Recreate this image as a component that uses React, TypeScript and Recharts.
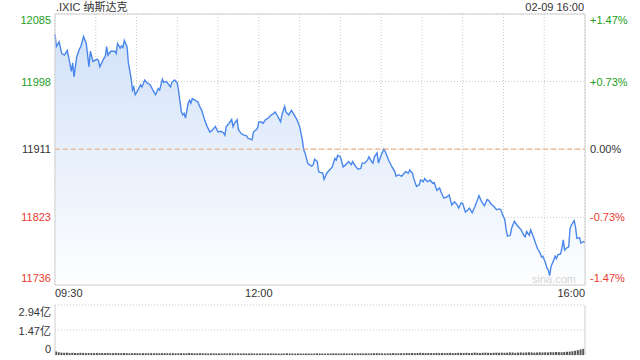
import {
  AreaChart,
  Area,
  BarChart,
  Bar,
  XAxis,
  YAxis,
  CartesianGrid,
  ReferenceLine,
} from 'recharts'

const FONT = '"Liberation Sans", Arial, "Noto Sans CJK SC", sans-serif'

const title = '.IXIC 纳斯达克'
const stamp = '02-09 16:00'
const prevClose = 11911

const priceTicks = [11736, 11823, 11911, 11998, 12085]
const pctLabels = ['-1.47%', '-0.73%', '0.00%', '+0.73%', '+1.47%']
const timeTicks = [0, 30, 60, 90, 120, 150, 180, 210, 240, 270, 300, 330, 360, 390]
const timeLabels: Record<number, string> = { 0: '09:30', 150: '12:00', 390: '16:00' }
const volTicks = [0, 1.47, 2.94]
const volLabels = ['0', '1.47亿', '2.94亿']

// minutes since 09:30
const minutes = [
  0, 1, 3, 5, 7, 9, 10, 12, 13, 14,
  16, 18, 19, 21, 23, 25, 26, 28, 31, 32,
  33, 36, 37, 38, 39, 41, 44, 45, 46, 48,
  49, 50, 51, 53, 54, 56, 57, 58, 59, 61,
  63, 64, 66, 68, 70, 72, 74, 76, 77, 79,
  80, 82, 85, 86, 88, 90, 91, 93, 94, 95,
  96, 98, 99, 100, 101, 103, 105, 107, 108, 110,
  112, 114, 116, 117, 118, 120, 122, 124, 125, 126,
  128, 130, 131, 132, 134, 135, 137, 139, 141, 142,
  145, 146, 148, 149, 150, 152, 153, 155, 157, 159,
  161, 162, 164, 166, 167, 169, 170, 172, 174, 176,
  178, 180, 182, 183, 184, 186, 187, 189, 190, 191,
  193, 194, 195, 197, 198, 200, 202, 204, 206, 207,
  208, 210, 211, 212, 214, 216, 218, 219, 221, 223,
  225, 226, 228, 230, 231, 233, 234, 235, 237, 238,
  240, 242, 243, 245, 246, 248, 250, 251, 253, 255,
  256, 258, 260, 261, 263, 264, 266, 268, 269, 271,
  272, 274, 276, 278, 279, 281, 283, 284, 286, 288,
  290, 292, 294, 296, 297, 299, 300, 302, 304, 305,
  307, 309, 311, 312, 314, 316, 318, 319, 321, 323,
  325, 327, 328, 330, 331, 332, 333, 335, 336, 338,
  340, 341, 343, 345, 346, 347, 349, 350, 352, 354,
  355, 357, 358, 359, 361, 362, 363, 364, 365, 367,
  368, 369, 370, 372, 373, 374, 375, 376, 378, 379,
  380, 382, 383, 384, 386, 387, 389, 390,
]

const prices = [
  12059, 12043, 12049, 12034, 12032, 12038, 12030, 12011, 12022, 12004,
  12030, 12040, 12043, 12056, 12047, 12017, 12037, 12024, 12027, 12025,
  12017, 12028, 12030, 12043, 12032, 12037, 12037, 12034, 12047, 12041,
  12044, 12042, 12051, 12043, 12022, 12002, 11987, 11991, 11981, 11987,
  11994, 11991, 12000, 11996, 11994, 11987, 11981, 11989, 11987, 12001,
  11997, 11998, 11991, 11997, 12000, 11996, 11985, 11959, 11955, 11957,
  11951, 11970, 11974, 11970, 11976, 11974, 11972, 11964, 11961, 11949,
  11940, 11933, 11936, 11938, 11940, 11933, 11934, 11932, 11929, 11940,
  11944, 11949, 11940, 11944, 11949, 11936, 11931, 11929, 11928, 11925,
  11923, 11933, 11936, 11938, 11946, 11946, 11944, 11949, 11951, 11955,
  11957, 11959, 11953, 11946, 11955, 11966, 11959, 11955, 11961, 11955,
  11949, 11940, 11923, 11910, 11906, 11893, 11891, 11889, 11891, 11898,
  11895, 11882, 11881, 11880, 11872, 11880, 11884, 11888, 11899, 11897,
  11903, 11901, 11895, 11888, 11891, 11895, 11891, 11895, 11889, 11885,
  11886, 11893, 11893, 11897, 11901, 11895, 11893, 11901, 11906, 11893,
  11903, 11911, 11908, 11899, 11895, 11888, 11882, 11876, 11878, 11876,
  11878, 11882, 11880, 11884, 11880, 11873, 11863, 11865, 11871, 11869,
  11873, 11869, 11871, 11867, 11868, 11858, 11861, 11856, 11848, 11849,
  11852, 11839, 11843, 11839, 11835, 11842, 11841, 11830, 11833, 11835,
  11829, 11837, 11846, 11851, 11843, 11838, 11846, 11845, 11840, 11837,
  11833, 11834, 11833, 11824, 11820, 11807, 11799, 11800, 11809, 11818,
  11813, 11811, 11807, 11800, 11798, 11805, 11800, 11807, 11798, 11788,
  11783, 11777, 11772, 11773, 11764, 11758, 11755, 11748, 11760, 11768,
  11773, 11770, 11775, 11776, 11783, 11794, 11781, 11783, 11785, 11809,
  11813, 11819, 11811, 11796, 11797, 11790, 11792, 11791,
]

// volume per 2-minute bin, in 亿
const volumes = [
  0.20, 0.16, 0.14, 0.13, 0.14, 0.12, 0.13, 0.12, 0.12, 0.13, 0.12, 0.11, 0.12, 0.12, 0.11,
  0.12, 0.11, 0.12, 0.11, 0.12, 0.11, 0.11, 0.12, 0.11, 0.11, 0.12, 0.11, 0.10, 0.11, 0.11,
  0.11, 0.10, 0.11, 0.11, 0.10, 0.11, 0.10, 0.11, 0.10, 0.10, 0.11, 0.10, 0.10, 0.11, 0.10,
  0.10, 0.11, 0.10, 0.10, 0.12, 0.11, 0.10, 0.10, 0.11, 0.10, 0.10, 0.09, 0.10, 0.10, 0.09,
  0.10, 0.09, 0.10, 0.09, 0.10, 0.10, 0.09, 0.10, 0.09, 0.10, 0.09, 0.09, 0.10, 0.09, 0.09,
  0.09, 0.10, 0.09, 0.09, 0.10, 0.09, 0.09, 0.08, 0.09, 0.09, 0.10, 0.09, 0.09, 0.08, 0.09,
  0.09, 0.08, 0.09, 0.09, 0.08, 0.09, 0.10, 0.09, 0.09, 0.08, 0.09, 0.09, 0.10, 0.09, 0.09,
  0.09, 0.10, 0.09, 0.09, 0.10, 0.09, 0.10, 0.10, 0.09, 0.10, 0.09, 0.10, 0.10, 0.11, 0.10,
  0.10, 0.09, 0.10, 0.10, 0.11, 0.10, 0.10, 0.11, 0.10, 0.12, 0.11, 0.12, 0.11, 0.12, 0.13,
  0.12, 0.11, 0.12, 0.11, 0.11, 0.12, 0.11, 0.12, 0.11, 0.12, 0.12, 0.11, 0.12, 0.13, 0.12,
  0.12, 0.13, 0.12, 0.12, 0.14, 0.13, 0.12, 0.13, 0.14, 0.13, 0.12, 0.13, 0.14, 0.13, 0.14,
  0.13, 0.14, 0.15, 0.14, 0.13, 0.14, 0.15, 0.14, 0.15, 0.16, 0.15, 0.14, 0.15, 0.16, 0.15,
  0.16, 0.15, 0.17, 0.16, 0.18, 0.17, 0.16, 0.18, 0.19, 0.20, 0.22, 0.25, 0.28, 0.33, 0.36,
]

const priceData = minutes.map((m, i) => ({ m, price: prices[i] }))
const volData = volumes.map((vol, i) => ({ m: 1 + i * 2, vol }))

const priceMin = priceTicks[0]
const priceMax = priceTicks[priceTicks.length - 1]

const tickColor = (v: number) =>
  v > prevClose ? '#22a022' : v < prevClose ? '#ec3a2f' : '#333'

const edgeShift = (v: number) => (v === priceMax ? 10 : v === priceMin ? -3 : 4)

function LeftPriceTick(props: any) {
  const v = props.payload.value as number
  return (
    <text x={51} y={props.y + edgeShift(v)} textAnchor="end" fontSize={11} fontFamily={FONT} fill={tickColor(v)}>
      {v}
    </text>
  )
}

function RightPctTick(props: any) {
  const v = props.payload.value as number
  return (
    <text x={590} y={props.y + edgeShift(v)} textAnchor="start" fontSize={11} fontFamily={FONT} fill={tickColor(v)}>
      {pctLabels[priceTicks.indexOf(v)]}
    </text>
  )
}

function TimeTick(props: any) {
  const v = props.payload.value as number
  const label = timeLabels[v]
  if (!label) return null
  const anchor = v === 0 ? 'start' : v === 390 ? 'end' : 'middle'
  return (
    <text x={props.x} y={props.y + 12} textAnchor={anchor} fontSize={11} fontFamily={FONT} fill="#333">
      {label}
    </text>
  )
}

function VolTick(props: any) {
  const v = props.payload.value as number
  const i = volTicks.indexOf(v)
  const dy = i === 2 ? 11 : i === 0 ? -2 : 5
  return (
    <text x={51} y={props.y + dy} textAnchor="end" fontSize={11} fontFamily={FONT} fill="#333">
      {volLabels[i]}
    </text>
  )
}

export default function App() {
  return (
    <div style={{ position: 'absolute', left: 0, top: 0, width: 640, height: 360, background: '#fff' }}>
      <div style={{ position: 'absolute', left: 0, top: 0 }}>
        <AreaChart width={640} height={300} data={priceData} margin={{ top: 14, right: 0, bottom: 0, left: 0 }}>
          <defs>
            <linearGradient id="priceFill" gradientUnits="userSpaceOnUse" x1="0" y1="14" x2="0" y2="285">
              <stop offset="0" stopColor="#d0e0f8" />
              <stop offset="1" stopColor="#fdfeff" />
            </linearGradient>
          </defs>
          <CartesianGrid stroke="#c8c8c8" strokeDasharray="1 2" />
          <XAxis
            dataKey="m"
            type="number"
            domain={[0, 390]}
            ticks={timeTicks}
            interval={0}
            height={15}
            tickSize={0}
            tickMargin={0}
            axisLine={false}
            tickLine={false}
            tick={<TimeTick />}
          />
          <YAxis
            domain={[priceMin, priceMax]}
            ticks={priceTicks}
            interval={0}
            width={55}
            axisLine={false}
            tickLine={false}
            allowDataOverflow
            tick={<LeftPriceTick />}
          />
          <YAxis
            yAxisId="r"
            orientation="right"
            domain={[priceMin, priceMax]}
            ticks={priceTicks}
            interval={0}
            width={55}
            axisLine={false}
            tickLine={false}
            allowDataOverflow
            tick={<RightPctTick />}
          />
          <Area
            type="linear"
            dataKey="price"
            stroke="#4a87ec"
            strokeWidth={1.4}
            fill="url(#priceFill)"
            fillOpacity={1}
            dot={false}
            activeDot={false}
            isAnimationActive={false}
          />
          <ReferenceLine y={prevClose} stroke="#f0a070" strokeDasharray="5 3" />
          <ReferenceLine y={priceMax} stroke="#cfcfcf" />
          <ReferenceLine y={priceMin} stroke="#cfcfcf" />
          <ReferenceLine x={0} stroke="#cfcfcf" />
          <ReferenceLine x={390} stroke="#cfcfcf" />
        </AreaChart>
      </div>
      <div style={{ position: 'absolute', left: 0, top: 300 }}>
        <BarChart width={640} height={60} data={volData} margin={{ top: 5, right: 55, bottom: 5, left: 0 }}>
          <CartesianGrid stroke="#c8c8c8" strokeDasharray="1 2" vertical={false} />
          <XAxis dataKey="m" type="number" domain={[0, 390]} hide />
          <YAxis
            domain={[0, 2.94]}
            ticks={volTicks}
            interval={0}
            width={55}
            axisLine={false}
            tickLine={false}
            allowDataOverflow
            tick={<VolTick />}
          />
          <Bar dataKey="vol" fill="#555" barSize={2} isAnimationActive={false} />
          <ReferenceLine x={0} stroke="#cfcfcf" />
          <ReferenceLine x={390} stroke="#cfcfcf" />
        </BarChart>
      </div>
      <svg width={640} height={360} style={{ position: 'absolute', left: 0, top: 0, pointerEvents: 'none' }}>
        <text x={56} y={11} fontSize={11} fontFamily={FONT} fill="#333">
          {title}
        </text>
        <text x={584} y={11} textAnchor="end" fontSize={11} fontFamily={FONT} fill="#333">
          {stamp}
        </text>
        <text x={532} y={283} fontSize={11} fontFamily={FONT} fill="#d4d4d4">
          sina.com
        </text>
      </svg>
    </div>
  )
}
